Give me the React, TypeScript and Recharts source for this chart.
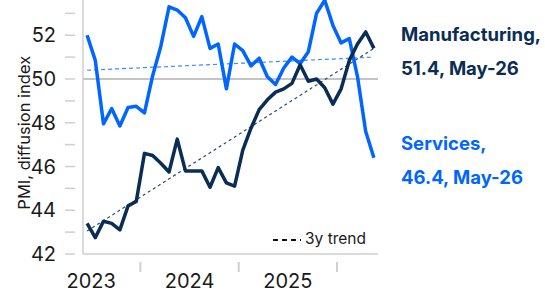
import { LineChart, Line, XAxis, YAxis, ReferenceLine } from 'recharts';

// months Jun-23 .. May-26, index 0..35
const months = [
  'Jun-23', 'Jul-23', 'Aug-23', 'Sep-23', 'Oct-23', 'Nov-23', 'Dec-23',
  'Jan-24', 'Feb-24', 'Mar-24', 'Apr-24', 'May-24', 'Jun-24', 'Jul-24', 'Aug-24', 'Sep-24', 'Oct-24', 'Nov-24', 'Dec-24',
  'Jan-25', 'Feb-25', 'Mar-25', 'Apr-25', 'May-25', 'Jun-25', 'Jul-25', 'Aug-25', 'Sep-25', 'Oct-25', 'Nov-25', 'Dec-25',
  'Jan-26', 'Feb-26', 'Mar-26', 'Apr-26', 'May-26',
];

const manufacturing = [
  43.4, 42.75, 43.5, 43.4, 43.1, 44.2, 44.4, 46.6, 46.5, 46.15, 45.75, 47.25,
  45.8, 45.8, 45.8, 45.05, 45.95, 45.25, 45.1, 46.75, 47.75, 48.6, 49.05, 49.4,
  49.55, 49.8, 50.65, 49.9, 50.0, 49.6, 48.85, 49.55, 50.85, 51.6, 52.15, 51.4,
];

const services = [
  52.0, 50.85, 47.95, 48.65, 47.85, 48.7, 48.75, 48.45, 50.15, 51.5, 53.3, 53.15,
  52.8, 51.95, 52.85, 51.4, 51.6, 49.55, 51.6, 51.3, 50.6, 50.95, 50.1, 49.75,
  50.5, 51.0, 50.7, 51.25, 53.0, 53.6, 52.45, 51.65, 51.85, 50.1, 47.6, 46.4,
];

// 3y trend endpoints (first / last month)
const manufTrend = [43.05, 51.4];
const servTrend = [50.4, 51.0];

const yearLabels = ['2023', '2024', '2025'];
const yearLabelPos = [0.5, 12.5, 24.5];
const yearBreaks = [6.5, 18.5, 30.5];
const yTicks = [42, 43, 44, 45, 46, 47, 48, 49, 50, 51, 52, 53, 54];

const NAVY = '#0a2d55';
const BLUE = '#0066ff';
const GREY = '#cfcfcf';
const FONT = 'Inter, "Noto Sans", sans-serif';

const data = months.map((m, i) => ({ i, month: m, manufacturing: manufacturing[i], services: services[i] }));

const YTick = (props: any) => {
  const { x, y, payload } = props;
  const v = payload.value;
  return (
    <g>
      <line x1={x - 10} x2={x} y1={y} y2={y} stroke={GREY} strokeWidth={1.5} />
      {v % 2 === 0 && (
        <text x={x - 19} y={y} dy={7} textAnchor="end" fontSize={20} fill="#1a1a1a" fontFamily={FONT}>
          {v}
        </text>
      )}
    </g>
  );
};

const XTick = (props: any) => {
  const { x, y, payload } = props;
  const idx = yearLabelPos.indexOf(payload.value);
  if (idx >= 0) {
    return (
      <text x={x} y={y} dy={26} textAnchor="middle" fontSize={20} fill="#1a1a1a" fontFamily={FONT}>
        {yearLabels[idx]}
      </text>
    );
  }
  return <line x1={x} x2={x} y1={y} y2={y + 10} stroke={GREY} strokeWidth={2} />;
};

export default function App() {
  const last = months.length - 1;
  return (
    <div style={{ position: 'absolute', left: 0, top: -30, width: 545, height: 324, fontFamily: FONT }}>
      <LineChart
        width={545}
        height={324}
        data={data}
        margin={{ top: 21.5, right: 167, bottom: 0, left: 0 }}
      >
        <XAxis
          dataKey="i"
          type="number"
          domain={[-0.5, 35.5]}
          ticks={[...yearLabelPos, ...yearBreaks].sort((a, b) => a - b)}
          tick={<XTick />}
          tickLine={false}
          axisLine={{ stroke: GREY, strokeWidth: 1.5 }}
          height={40}
          interval={0}
        />
        <YAxis
          domain={[42, 54]}
          ticks={yTicks}
          tick={<YTick />}
          tickLine={false}
          axisLine={{ stroke: GREY, strokeWidth: 1.5 }}
          width={83}
          interval={0}
          label={{
            value: 'PMI, diffusion index',
            angle: -90,
            position: 'insideLeft',
            dx: 19,
            dy: 10,
            style: { fontSize: 16.5, fill: '#1a1a1a', fontFamily: FONT, textAnchor: 'middle' },
          }}
        />
        <ReferenceLine y={50} stroke="#c4c4c4" strokeWidth={2} />
        <ReferenceLine
          segment={[{ x: 0, y: servTrend[0] }, { x: last, y: servTrend[1] }]}
          stroke="#3d8bff"
          strokeWidth={1.2}
          strokeDasharray="4 3"
        />
        <ReferenceLine
          segment={[{ x: 0, y: manufTrend[0] }, { x: last, y: manufTrend[1] }]}
          stroke="#2b4a70"
          strokeWidth={1.2}
          strokeDasharray="3 3"
        />
        <Line
          dataKey="services"
          stroke={BLUE}
          strokeWidth={3.5}
          dot={false}
          isAnimationActive={false}
          strokeLinejoin="round"
        />
        <Line
          dataKey="manufacturing"
          stroke={NAVY}
          strokeWidth={3.5}
          dot={false}
          isAnimationActive={false}
          strokeLinejoin="round"
        />
      </LineChart>

      <svg style={{ position: 'absolute', left: 272, top: 262 }} width={30} height={16}>
        <line x1={1} x2={29} y1={8} y2={8} stroke="#111" strokeWidth={2} strokeDasharray="5 4" />
      </svg>
      <div style={{ position: 'absolute', left: 305, top: 259, fontSize: 15.5, color: '#1a1a1a', whiteSpace: 'nowrap' }}>
        3y trend
      </div>

      <div style={{ position: 'absolute', left: 401, top: 47, fontSize: 18.5, fontWeight: 700, color: NAVY, lineHeight: '34px', whiteSpace: 'nowrap' }}>
        <div>Manufacturing,</div>
        <div>{manufacturing[last].toFixed(1)}, {months[last]}</div>
      </div>
      <div style={{ position: 'absolute', left: 401, top: 156, fontSize: 18.5, fontWeight: 700, color: BLUE, lineHeight: '34px', whiteSpace: 'nowrap' }}>
        <div>Services,</div>
        <div>{services[last].toFixed(1)}, {months[last]}</div>
      </div>
    </div>
  );
}
